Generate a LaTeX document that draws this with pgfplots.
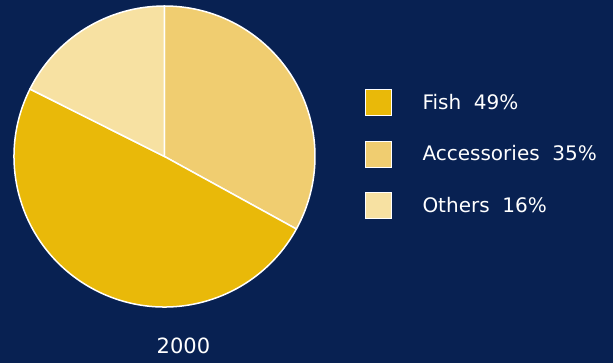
\documentclass[border=0pt]{standalone}
\usepackage{pgfplots}
\usepackage{pgfplotstable}
\pgfplotsset{compat=1.18}
\usepackage{fontspec}
\setmainfont{DejaVu Sans}
\definecolor{bgc}{RGB}{8,33,82}
\definecolor{fishc}{RGB}{233,185,9}
\definecolor{accc}{RGB}{240,205,112}
\definecolor{othc}{RGB}{247,225,162}
\pgfplotstableread{
label value
Accessories 33.0
Fish 49.4
Others 17.6
}\piedata
\begin{document}
\begin{tikzpicture}
\pgfplotstablegetelem{0}{value}\of\piedata \let\vA\pgfplotsretval
\pgfplotstablegetelem{1}{value}\of\piedata \let\vB\pgfplotsretval
\pgfplotstablegetelem{2}{value}\of\piedata \let\vC\pgfplotsretval
\pgfmathsetmacro{\aA}{90}
\pgfmathsetmacro{\aB}{\aA-3.6*\vA}
\pgfmathsetmacro{\aC}{\aB-3.6*\vB}
\pgfmathsetmacro{\aD}{\aC-3.6*\vC}
\begin{axis}[
  hide axis,
  scale only axis,
  width=613bp, height=363bp,
  xmin=-1.0930, xmax=2.9801,
  ymin=-1.3721, ymax=1.0399,
  disabledatascaling,
  font=\fontsize{20bp}{24bp}\selectfont,
  legend style={at={(axis cs:1.3276,0.4485)}, anchor=north west,
    draw=none, fill=none, inner sep=0pt, text=white,
    row sep=24.3bp, column sep=31bp,
    nodes={inner sep=0pt},
    font=\fontsize{20bp}{24bp}\selectfont},
  legend cell align=left,
  legend image code/.code={\draw[#1,draw=white,line width=1bp] (0bp,-13bp) rectangle (26bp,13bp);},
]
\fill[bgc] (rel axis cs:0,0) rectangle (rel axis cs:1,1);
\fill[accc, draw=white, line width=1.5bp] (axis cs:0,0) -- (axis cs:{cos(\aA)},{sin(\aA)}) arc[start angle=\aA, end angle=\aB, radius=1] -- cycle;
\fill[fishc, draw=white, line width=1.5bp] (axis cs:0,0) -- (axis cs:{cos(\aB)},{sin(\aB)}) arc[start angle=\aB, end angle=\aC, radius=1] -- cycle;
\fill[othc, draw=white, line width=1.5bp] (axis cs:0,0) -- (axis cs:{cos(\aC)},{sin(\aC)}) arc[start angle=\aC, end angle=\aD, radius=1] -- cycle;
\addlegendimage{fill=fishc}
\addlegendentry{Fish\ \ 49\%}
\addlegendimage{fill=accc}
\addlegendentry{Accessories\ \ 35\%}
\addlegendimage{fill=othc}
\addlegendentry{Others\ \ 16\%}
\node[text=white, anchor=center, font=\fontsize{21bp}{25bp}\selectfont] at (axis cs:0.126,-1.256) {2000};
\end{axis}
\end{tikzpicture}
\end{document}
